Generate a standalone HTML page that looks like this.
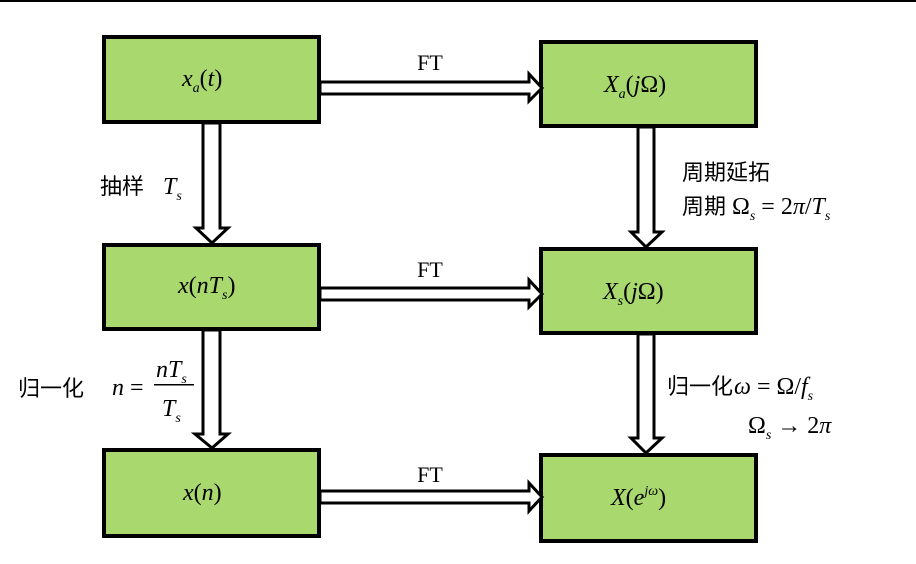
<!DOCTYPE html>
<html><head><meta charset="utf-8"><style>
html,body{margin:0;padding:0;background:#fff;}
svg{display:block;}
text{font-family:"Liberation Serif","Noto Serif CJK SC",serif;}
.m{font-style:italic;font-size:24px;}
.c{font-family:"Liberation Sans","Noto Sans CJK SC",sans-serif;font-size:22px;}
</style></head><body>
<svg width="916" height="564" viewBox="0 0 916 564" xmlns="http://www.w3.org/2000/svg">
<rect x="0" y="0" width="916" height="2" fill="#000"/>
<g fill="#a8d86e" stroke="#000" stroke-width="4">
<rect x="104" y="37" width="215" height="85"/>
<rect x="104" y="245" width="215" height="84"/>
<rect x="104" y="450" width="215" height="86"/>
<rect x="541" y="42" width="215" height="84"/>
<rect x="541" y="249" width="215" height="84"/>
<rect x="541" y="455" width="215" height="86"/>
</g>
<g fill="#fff" stroke="#000" stroke-width="3" stroke-linejoin="miter">
<polygon points="320,82 529,82 529,74 542,88 529,101 529,94 320,94"/>
<polygon points="320,288 529,288 529,280 542,294 529,307 529,300 320,300"/>
<polygon points="320,491 529,491 529,483 542,497 529,511 529,503 320,503"/>
<polygon points="203,123 220,123 220,228 228,228 212,243 196,228 203,228"/>
<polygon points="203,330 220,330 220,434 228,434 212,448 195,434 203,434"/>
<polygon points="638,127 654,127 654,232 662,232 646,247 631,232 638,232"/>
<polygon points="638,334 654,334 654,438 662,438 646,453 631,438 638,438"/>
</g>
<g font-size="22" text-anchor="middle">
<text x="430" y="70">FT</text>
<text x="430" y="277">FT</text>
<text x="430" y="482">FT</text>
</g>
<text class="m" x="182" y="86">x<tspan font-size="14" dy="6">a</tspan><tspan dy="-6" font-style="normal">(</tspan>t<tspan font-style="normal">)</tspan></text>
<text class="m" x="604" y="92">X<tspan font-size="14" dy="6">a</tspan><tspan dy="-6" font-style="normal">(</tspan>j<tspan font-style="normal">Ω)</tspan></text>
<text class="m" x="178" y="293">x<tspan font-style="normal">(</tspan>nT<tspan font-size="14" dy="6">s</tspan><tspan dy="-6" font-style="normal">)</tspan></text>
<text class="m" x="603" y="299">X<tspan font-size="14" dy="6">s</tspan><tspan dy="-6" font-style="normal">(</tspan>j<tspan font-style="normal">Ω)</tspan></text>
<text class="m" x="183" y="500">x<tspan font-style="normal">(</tspan>n<tspan font-style="normal">)</tspan></text>
<text class="m" x="611" y="505">X<tspan font-style="normal">(</tspan>e<tspan font-size="14" dy="-10">jω</tspan><tspan dy="10" font-style="normal">)</tspan></text>
<text class="c" x="100" y="194">抽样</text>
<text class="m" x="163" y="194">T<tspan font-size="14" dy="6">s</tspan></text>
<text class="c" x="682" y="180">周期延拓</text>
<text class="c" x="682" y="214">周期</text>
<text class="m" x="732" y="214"><tspan font-style="normal">Ω</tspan><tspan font-size="14" dy="6">s</tspan><tspan dy="-6" font-style="normal"> = 2</tspan>π<tspan font-style="normal">/</tspan>T<tspan font-size="14" dy="6">s</tspan></text>
<text class="c" x="18" y="396">归一化</text>
<text class="m" x="112" y="395">n<tspan font-style="normal"> =</tspan></text>
<text class="m" x="156" y="377">nT<tspan font-size="14" dy="6">s</tspan></text>
<rect x="154" y="384" width="40" height="1.5" fill="#000"/>
<text class="m" x="162" y="416">T<tspan font-size="14" dy="6">s</tspan></text>
<text class="c" x="667" y="394">归一化</text>
<text class="m" x="734" y="394">ω<tspan font-style="normal"> = Ω/</tspan>f<tspan font-size="14" dy="6">s</tspan></text>
<text class="m" x="748" y="433"><tspan font-style="normal">Ω</tspan><tspan font-size="14" dy="6">s</tspan><tspan dy="-6" font-style="normal"> → 2</tspan>π</text>
</svg>
</body></html>
